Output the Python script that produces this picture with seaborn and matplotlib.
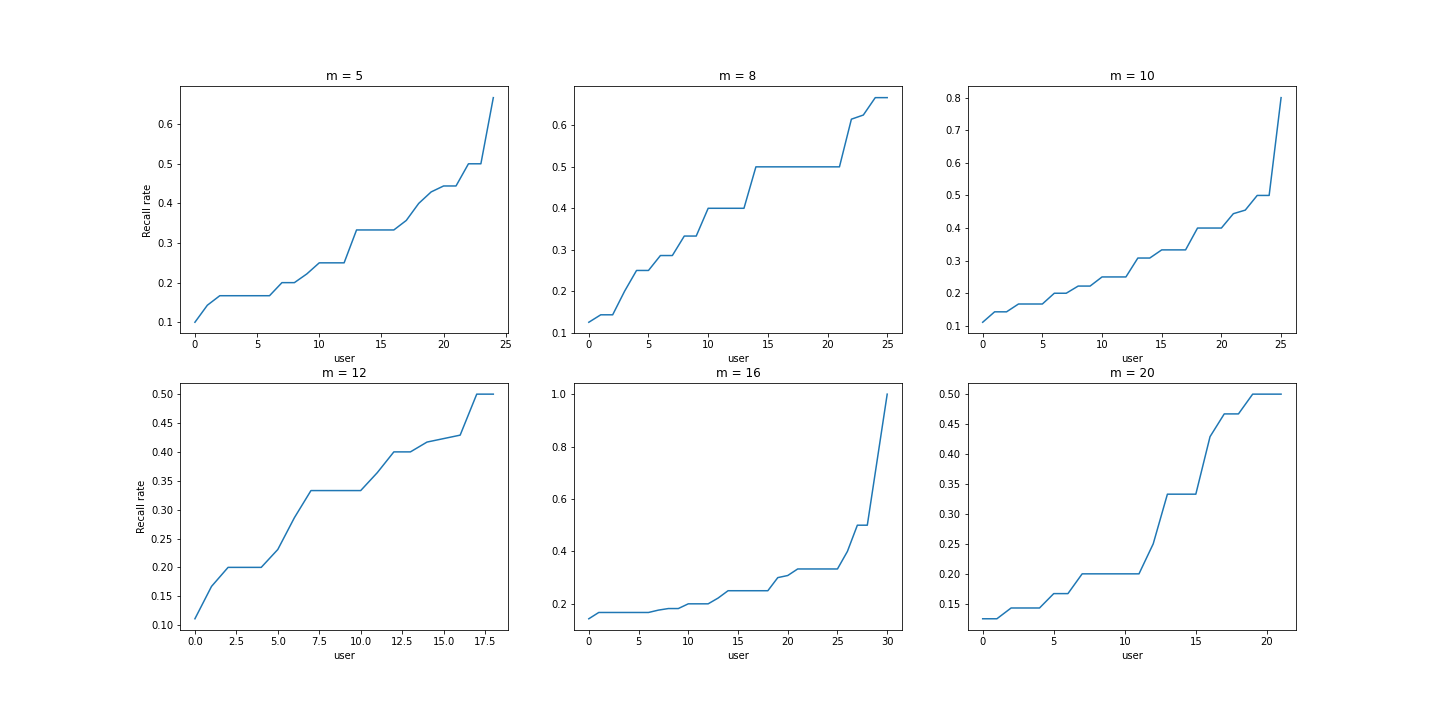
import numpy as np
import pandas as pd
import matplotlib
matplotlib.use('Agg')
import matplotlib.pyplot as plt
import seaborn as sns

# Recall rate per user (sorted), one list per value of m
m_values = [5, 8, 10, 12, 16, 20]

recall_m5 = [0.1, 0.143, 0.167, 0.167, 0.167, 0.167, 0.167, 0.2, 0.2, 0.222,
             0.25, 0.25, 0.25, 0.333, 0.333, 0.333, 0.333, 0.357, 0.4, 0.429,
             0.444, 0.444, 0.5, 0.5, 0.667]
recall_m8 = [0.125, 0.143, 0.143, 0.2, 0.25, 0.25, 0.286, 0.286, 0.333, 0.333,
             0.4, 0.4, 0.4, 0.4, 0.5, 0.5, 0.5, 0.5, 0.5, 0.5,
             0.5, 0.5, 0.615, 0.625, 0.667, 0.667]
recall_m10 = [0.111, 0.143, 0.143, 0.167, 0.167, 0.167, 0.2, 0.2, 0.222, 0.222,
              0.25, 0.25, 0.25, 0.308, 0.308, 0.333, 0.333, 0.333, 0.4, 0.4,
              0.4, 0.444, 0.455, 0.5, 0.5, 0.8]
recall_m12 = [0.111, 0.167, 0.2, 0.2, 0.2, 0.231, 0.286, 0.333, 0.333, 0.333,
              0.333, 0.364, 0.4, 0.4, 0.417, 0.423, 0.429, 0.5, 0.5]
recall_m16 = [0.143, 0.167, 0.167, 0.167, 0.167, 0.167, 0.167, 0.176, 0.182, 0.182,
              0.2, 0.2, 0.2, 0.222, 0.25, 0.25, 0.25, 0.25, 0.25, 0.3,
              0.308, 0.333, 0.333, 0.333, 0.333, 0.333, 0.4, 0.5, 0.5, 0.75,
              1.0]
recall_m20 = [0.125, 0.125, 0.143, 0.143, 0.143, 0.167, 0.167, 0.2, 0.2, 0.2,
              0.2, 0.2, 0.25, 0.333, 0.333, 0.333, 0.429, 0.467, 0.467, 0.5,
              0.5, 0.5]

all_recalls = [recall_m5, recall_m8, recall_m10, recall_m12, recall_m16, recall_m20]

fig, axes = plt.subplots(2, 3, figsize=(20, 10))
fig.subplots_adjust(left=0.125, right=0.9, top=0.88, bottom=0.125, wspace=0.2, hspace=0.2)

for i, (m, recall) in enumerate(zip(m_values, all_recalls)):
    ax = axes.flat[i]
    df = pd.DataFrame({'user': np.arange(len(recall)), 'recall': recall})
    sns.lineplot(data=df, x='user', y='recall', ax=ax, color='#1f77b4')
    ax.set_title(f'm = {m}')
    ax.set_xlabel('user')
    if i % 3 == 0:
        ax.set_ylabel('Recall rate')
    else:
        ax.set_ylabel('')

plt.savefig('out.png', dpi=72)
plt.close()
